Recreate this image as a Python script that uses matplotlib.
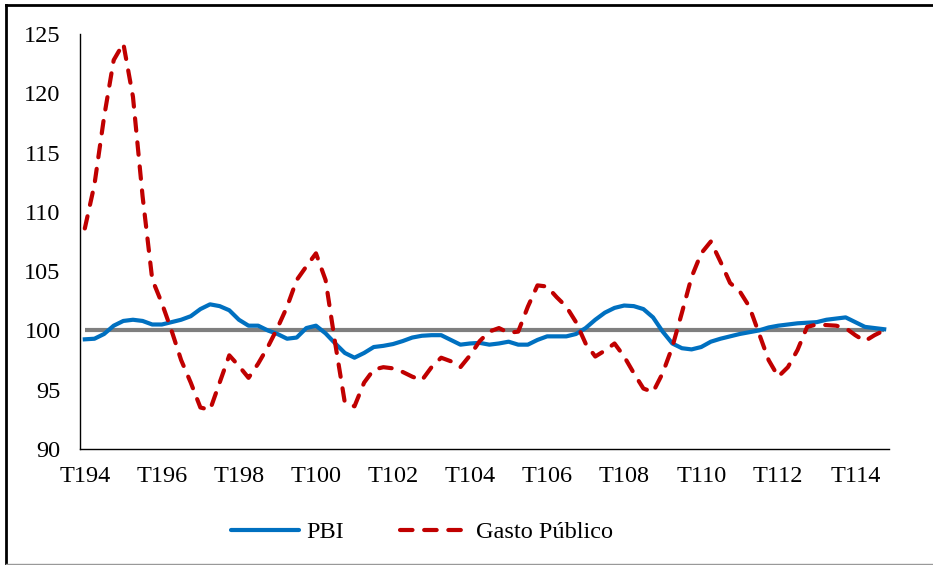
import matplotlib.pyplot as plt
from matplotlib.lines import Line2D

# quarterly index, base 100 (T1 1994 - T4 2014)
years = list(range(1994, 2015))
quarters = [f"T{q}{y % 100:02d}" for y in years for q in range(1, 5)]

pbi = [99.25, 99.3, 99.7, 100.4, 100.8, 100.9, 100.8, 100.5, 100.5, 100.7,
       100.9, 101.2, 101.8, 102.2, 102.05, 101.7, 100.9, 100.4, 100.4, 100.0,
       99.7, 99.3, 99.4, 100.2, 100.4, 99.75, 98.9, 98.1, 97.7, 98.1,
       98.6, 98.7, 98.85, 99.1, 99.4, 99.55, 99.6, 99.6, 99.2, 98.8,
       98.9, 98.95, 98.8, 98.9, 99.05, 98.8, 98.8, 99.2, 99.5, 99.5,
       99.5, 99.7, 100.2, 100.9, 101.5, 101.9, 102.1, 102.05, 101.8, 101.1,
       99.9, 98.9, 98.5, 98.4, 98.6, 99.05, 99.3, 99.5, 99.7, 99.85,
       100.0, 100.25, 100.4, 100.5, 100.6, 100.65, 100.7, 100.9, 101.0, 101.1,
       100.7, 100.3, 100.2, 100.1]

gasto = [108.6, 112.3, 118.0, 122.8, 124.2, 119.7, 111.3, 104.3, 102.3, 100.0,
         97.5, 95.6, 93.5, 93.3, 95.6, 97.9, 97.0, 96.0, 97.2, 98.6,
         100.2, 102.0, 104.25, 105.4, 106.5, 104.25, 98.9, 93.9, 93.6, 95.6,
         96.7, 96.9, 96.8, 96.5, 96.1, 95.8, 96.9, 97.7, 97.4, 96.9,
         97.9, 99.1, 99.9, 100.2, 99.8, 99.9, 102.0, 103.8, 103.7, 102.8,
         102.0, 100.7, 98.9, 97.8, 98.3, 98.9, 97.8, 96.4, 95.1, 94.8,
         96.4, 98.6, 101.5, 104.5, 106.5, 107.5, 105.8, 104.0, 103.3, 102.0,
         99.75, 97.5, 96.1, 96.9, 98.35, 100.3, 100.5, 100.45, 100.4, 100.2,
         99.6, 99.1, 99.6, 100.0]

base = [100] * len(quarters)

plt.rcParams['font.family'] = ['Liberation Serif', 'DejaVu Serif']

fig = plt.figure(figsize=(9.33, 5.65), dpi=100)
ax = fig.add_axes([80 / 933, 1 - 449 / 565, 809 / 933, 415 / 565])

dash = (0, (3, 2.8))
x = list(range(len(quarters)))
ax.plot(x, base, color='#7f7f7f', lw=3, solid_capstyle='butt', zorder=2)
ax.plot(x, pbi, color='#0070c0', lw=3, solid_joinstyle='round', zorder=3)
ax.plot(x, gasto, color='#c00000', lw=3, ls=dash,
        dash_capstyle='round', zorder=4)

ax.set_xlim(-0.5, len(quarters) - 0.5)
ax.set_ylim(90, 125)
ax.set_yticks(range(90, 126, 5))
ax.set_xticks(x[::8])
ax.set_xticklabels(quarters[::8])
ax.tick_params(length=0, labelsize=17.5)
ax.tick_params(axis='y', pad=14)
ax.tick_params(axis='x', pad=12)
for side in ('top', 'right'):
    ax.spines[side].set_visible(False)
for side in ('left', 'bottom'):
    ax.spines[side].set_linewidth(1)

handles = [Line2D([], [], color='#0070c0', lw=3, solid_capstyle='round'),
           Line2D([], [], color='#c00000', lw=3, ls=dash,
                  dash_capstyle='round')]
fig.legend(handles, ['PBI', 'Gasto Público'], loc='center',
           bbox_to_anchor=(422 / 933, 1 - 532 / 565), ncol=2, frameon=False,
           fontsize=17.5, handlelength=2.8, handletextpad=0.3,
           columnspacing=2.3)

# chart frame
fig.add_artist(Line2D([6 / 933, 6 / 933], [1 - 564 / 565, 1 - 5 / 565],
                      color='black', lw=2, transform=fig.transFigure))
fig.add_artist(Line2D([6 / 933, 1], [1 - 5 / 565, 1 - 5 / 565],
                      color='black', lw=2, transform=fig.transFigure))
fig.add_artist(Line2D([6 / 933, 1], [1 - 564 / 565, 1 - 564 / 565],
                      color='#999999', lw=1, transform=fig.transFigure))

fig.savefig('out.png', dpi=100)
